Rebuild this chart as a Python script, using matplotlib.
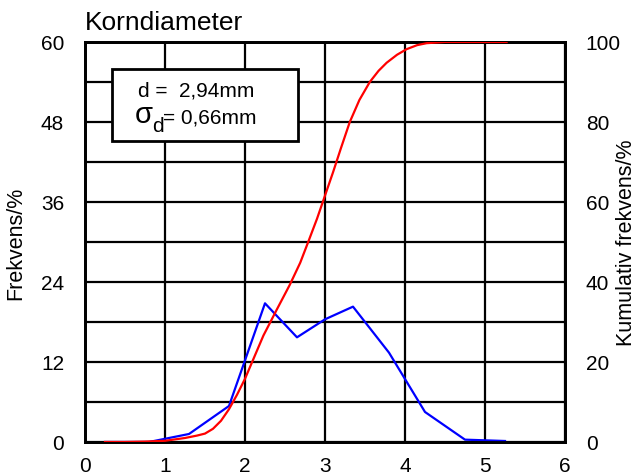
import matplotlib
matplotlib.use("Agg")
import matplotlib.pyplot as plt
from matplotlib.ticker import MultipleLocator

plt.rcParams["font.family"] = ["Liberation Sans", "DejaVu Sans"]

# frequency per size class (left axis)
freq_x = [0.25, 0.8, 1.3, 1.8, 2.25, 2.65, 3.0, 3.35, 3.8, 4.25, 4.75, 5.25]
freq_y = [0.0, 0.0, 1.2, 5.4, 20.8, 15.7, 18.4, 20.3, 13.4, 4.5, 0.35, 0.15]

# cumulative frequency (right axis)
cum_x = [0.25, 0.5, 0.75, 1.0, 1.25, 1.4, 1.5, 1.6, 1.7, 1.8, 1.9, 2.0, 2.1,
         2.23, 2.4, 2.56, 2.69, 2.79, 2.9, 3.0, 3.1, 3.2, 3.31, 3.43, 3.56,
         3.67, 3.77, 3.9, 4.02, 4.15, 4.27, 4.5, 5.27]
cum_y = [0.0, 0.0, 0.1, 0.3, 1.0, 1.6, 2.1, 3.3, 5.3, 8.2, 11.8, 15.8, 20.5,
         26.6, 33.2, 39.3, 44.8, 50.0, 55.8, 61.6, 67.4, 73.5, 80.0, 85.5, 90.0,
         92.8, 94.8, 96.8, 98.2, 99.2, 99.7, 100.0, 100.0]

mean_txt = "d =  2,94mm"
std_sym = "σ"
std_sub = "d"
std_txt = "= 0,66mm"

fig = plt.figure(figsize=(6.38, 4.77), dpi=100)
ax = fig.add_axes([0.1332, 0.0713, 0.7524, 0.8386])
ax2 = ax.twinx()

ax.set_xlim(0, 6)
ax.set_ylim(0, 60)
ax2.set_ylim(0, 100)

ax.xaxis.set_major_locator(MultipleLocator(1))
ax.yaxis.set_major_locator(MultipleLocator(12))
ax.yaxis.set_minor_locator(MultipleLocator(6))
ax2.yaxis.set_major_locator(MultipleLocator(20))

ax.grid(True, which="both", color="black", linewidth=1.6)
ax.set_axisbelow(True)
ax.tick_params(axis="y", which="both", length=0, labelsize=15, pad=15)
ax.tick_params(axis="x", which="both", length=0, labelsize=15, pad=10)
ax2.tick_params(which="both", length=0, labelsize=15, pad=15)
for a in (ax, ax2):
    for s in a.spines.values():
        s.set_linewidth(2)

ax.plot(freq_x, freq_y, color="blue", linewidth=1.6, zorder=3)
ax2.plot(cum_x, cum_y, color="red", linewidth=1.6, zorder=3)

ax.set_ylabel("Frekvens/%", fontsize=15.5, va="center")
ax.yaxis.set_label_coords(-0.144, 0.5)
ax2.set_ylabel("Kumulativ frekvens/%", fontsize=15.5, rotation=90, va="center")
ax2.yaxis.set_label_coords(1.128, 0.5)
ax.set_title("Korndiameter", loc="left", fontsize=19, pad=9)

box = plt.Rectangle((0.333, 45.2), 2.334, 10.75, facecolor="white",
                    edgecolor="black", linewidth=2, zorder=4)
ax.add_patch(box)
ax.text(0.66, 51.95, mean_txt, fontsize=15, va="baseline", zorder=5)
ax.text(0.62, 47.95, std_sym, fontsize=21, va="baseline", zorder=5)
ax.text(0.84, 46.6, std_sub, fontsize=15, va="baseline", zorder=5)
ax.text(0.975, 47.95, std_txt, fontsize=15, va="baseline", zorder=5)

fig.savefig("out.png", dpi=100)
